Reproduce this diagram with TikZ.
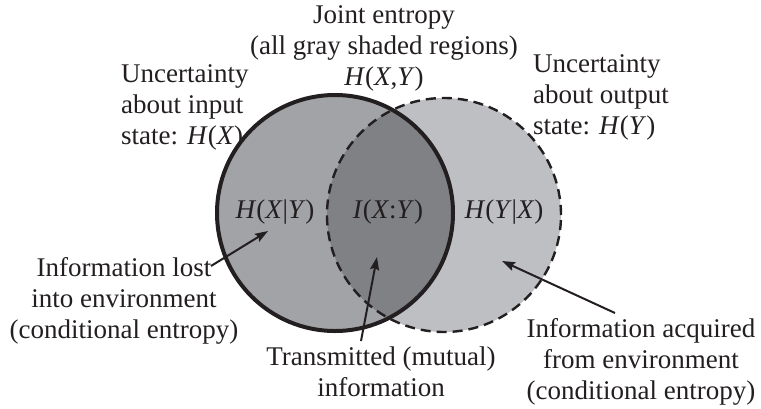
\documentclass[tikz,border=0pt]{standalone}
\usepackage{fontspec}
\setmainfont{Liberation Serif}
\usetikzlibrary{arrows.meta,positioning}
\definecolor{leftgray}{RGB}{162,163,167}
\definecolor{jointgray}{RGB}{128,129,133}
\definecolor{rightgray}{RGB}{190,191,195}
\definecolor{inkblack}{RGB}{35,31,32}
\tikzset{
  % 全局字体
  every node/.append style={font=\fontsize{27}{31}\selectfont, text=inkblack},
  % 文字标签
  lbl/.style={align=center, inner sep=0pt},
  lblleft/.style={align=left, anchor=west, inner sep=0pt},
  % 输入集合(实线)
  inset/.style={line width=4pt, draw=inkblack},
  % 输出集合(虚线)
  outset/.style={line width=2.4pt, draw=inkblack, dash pattern=on 10pt off 6pt},
  % 箭头样式
  arr/.style={-{Stealth[length=13pt, width=9pt, inset=2pt]}, line width=2pt, draw=inkblack},
}

\begin{document}
\begin{tikzpicture}[x=1pt, y=-1pt]
        \useasboundingbox (0,0) rectangle (761,408);

        % 圆心
        \coordinate (cx) at (335,213);
        \coordinate (cy) at (444,215);

        % 填充区域
        \fill[rightgray] (cy) circle [radius=117pt];
        \fill[leftgray] (cx) circle [radius=118pt];
        \begin{scope}
            \clip (cx) circle [radius=118pt];
            \fill[jointgray] (cy) circle [radius=117pt];
        \end{scope}

        % 边界
        \draw[outset] (cy) circle [radius=117pt];
        \draw[inset] (cx) circle [radius=118pt];

        % 区域内的量
        \node[lbl] (hxy) at (275,212) {\textit{H}(\textit{X}|\textit{Y})};
        \node[lbl] (ixy) at (388,212) {\textit{I}(\textit{X}:\textit{Y})};
        \node[lbl] (hyx) at (504,212) {\textit{H}(\textit{Y}|\textit{X})};

        % 上方说明
        \node[lbl] (joint) at (384,48) {Joint entropy\\(all gray shaded regions)\\\textit{H}(\textit{X},\textit{Y})};
        \node[lblleft] (uncx) at (121,107) {Uncertainty\\about input\\state: \textit{H}(\textit{X})};
        \node[lblleft] (uncy) at (533,97) {Uncertainty\\about output\\state: \textit{H}(\textit{Y})};

        % 下方说明
        \node[lbl] (lost) at (124,301) {Information lost\\into environment\\(conditional entropy)};
        \node[lbl] (trans) at (381,372) {Transmitted (mutual)\\information};
        \node[lbl] (acq) at (641,362) {Information acquired\\from environment\\(conditional entropy)};

        % 箭头端点
        \coordinate (lost-tail) at (211,266);
        \coordinate (lost-tip) at (268,231);
        \coordinate (trans-tail) at (361,341);
        \coordinate (trans-tip) at (377,257);
        \coordinate (acq-tail) at (615,313);
        \coordinate (acq-tip) at (502,261);

        \draw[arr] (lost-tail) -- (lost-tip);
        \draw[arr] (trans-tail) -- (trans-tip);
        \draw[arr] (acq-tail) -- (acq-tip);
    \end{tikzpicture}
\end{document}
